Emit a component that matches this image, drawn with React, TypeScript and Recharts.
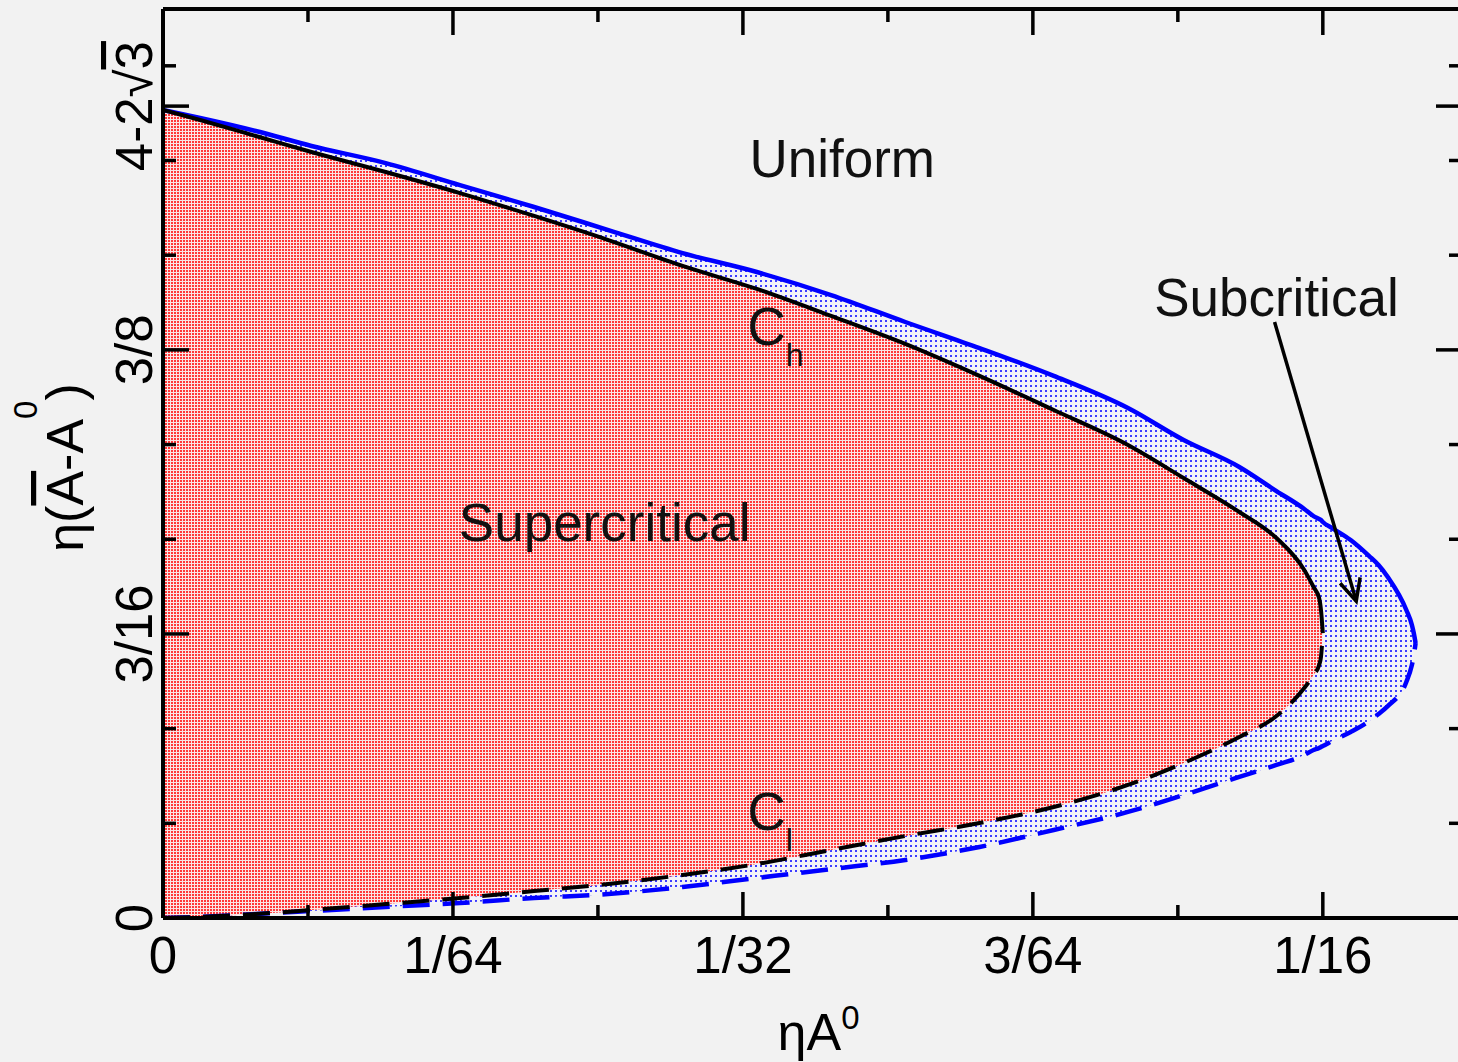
import React from 'react';
import { ComposedChart, Area, Line, XAxis, YAxis, ReferenceDot, ReferenceLine } from 'recharts';

const FONT = '"Liberation Sans", Arial, Helvetica, sans-serif';

const etaA0 = [
  0, 0.002, 0.005, 0.008, 0.012, 0.016, 0.02, 0.024, 0.028, 0.032, 0.036, 0.04, 0.044, 0.048,
  0.052, 0.055, 0.058, 0.06, 0.0615, 0.062, 0.0623, 0.0624, 0.0625,
  0.063, 0.064, 0.065, 0.0655, 0.066, 0.067, 0.0673, 0.0674, 0.0675,
];

// supercritical boundary: C_h (upper, solid) and C_l (lower, dashed)
const chUpper = [
  0.5333, 0.5267, 0.5162, 0.5056, 0.4924, 0.4785, 0.4634, 0.4475, 0.4304, 0.4152, 0.3974, 0.3789,
  0.3578, 0.3353, 0.3122, 0.2904, 0.268, 0.2508, 0.2297, 0.2185, 0.2112, 0.2033, 0.1881,
];
const clLower = [
  0, 0.0007, 0.0026, 0.0053, 0.0092, 0.0132, 0.0178, 0.0224, 0.0284, 0.0356, 0.0449, 0.0541,
  0.0627, 0.0733, 0.0878, 0.1023, 0.1195, 0.1333, 0.1518, 0.1604, 0.167, 0.1723, 0.1881,
];

// subcritical (blue) boundary
const blueUpper = [
  0.5333, 0.5281, 0.5195, 0.5096, 0.4983, 0.4838, 0.4693, 0.4541, 0.4389, 0.4264, 0.4112, 0.3934,
  0.3762, 0.3578, 0.3366, 0.3155, 0.2977, 0.2818, 0.27, 0.2653, 0.2634, 0.2627, 0.2614,
  0.2574, 0.2495, 0.2389, 0.233, 0.2251, 0.2033, 0.1934, 0.1881, 0.1815,
];
const blueLower = [
  0, 0.0007, 0.0026, 0.0046, 0.0073, 0.0099, 0.0132, 0.0158, 0.0205, 0.0264, 0.0323, 0.0383,
  0.0469, 0.0581, 0.07, 0.0812, 0.0931, 0.101, 0.1076, 0.1109, 0.1122, 0.1129, 0.1135,
  0.1168, 0.1228, 0.13, 0.1347, 0.1399, 0.1558, 0.167, 0.1729, 0.1815,
];

const xMajor = [0, 1 / 64, 1 / 32, 3 / 64, 1 / 16];
const xMajorLabels = ['0', '1/64', '1/32', '3/64', '1/16'];
const xMinor = [1 / 128, 3 / 128, 5 / 128, 7 / 128];

const yMajor = [0, 3 / 16, 3 / 8, 4 - 2 * Math.sqrt(3)];
const yMajorLabels = ['0', '3/16', '3/8', '4-2√3'];
const yMinor = [1 / 16, 1 / 8, 1 / 4, 5 / 16, 7 / 16, 1 / 2, 9 / 16];

const regionLabels = [
  { text: 'Uniform', x: 0.0366, y: 0.4891 },
  { text: 'Subcritical', x: 0.06, y: 0.3974 },
  { text: 'Supercritical', x: 0.0238, y: 0.2488 },
];
const curveLabels = [
  { main: 'C', sub: 'h', x: 0.0315, y: 0.3782 },
  { main: 'C', sub: 'l', x: 0.0315, y: 0.0581 },
];
const arrowFrom = { x: 0.0599, y: 0.3934 };
const arrowTo = { x: 0.0643, y: 0.2092 };

const rows = etaA0.map((x, i) => ({
  x,
  ch: i < chUpper.length ? chUpper[i] : null,
  cl: i < clLower.length ? clLower[i] : null,
  bu: blueUpper[i],
  bl: blueLower[i],
}));

const xTicks = [...xMajor, ...xMinor].sort((a, b) => a - b);
const yTicks = [...yMajor, ...yMinor].sort((a, b) => a - b);

const findMajor = (list: number[], v: number) => list.findIndex((m) => Math.abs(m - v) < 1e-9);

const MAJOR = 26;
const MINOR = 13;
const TICK_W = 3.5;

function bottomTick(p: any) {
  const i = findMajor(xMajor, p.payload.value);
  const len = i >= 0 ? MAJOR : MINOR;
  return (
    <g>
      <line x1={p.x} y1={p.y} x2={p.x} y2={p.y - len} stroke="#000" strokeWidth={TICK_W} />
      {i >= 0 && (
        <text x={p.x} y={p.y + 55} textAnchor="middle" fontSize={51} fontFamily={FONT} fill="#000">
          {xMajorLabels[i]}
        </text>
      )}
    </g>
  );
}

function topTick(p: any) {
  const len = findMajor(xMajor, p.payload.value) >= 0 ? MAJOR : MINOR;
  return <line x1={p.x} y1={p.y} x2={p.x} y2={p.y + len} stroke="#000" strokeWidth={TICK_W} />;
}

function leftTick(p: any) {
  const i = findMajor(yMajor, p.payload.value);
  const len = i >= 0 ? MAJOR : MINOR;
  const tx = p.x - 11;
  const label = i >= 0 ? yMajorLabels[i] : null;
  return (
    <g>
      <line x1={p.x} y1={p.y} x2={p.x + len} y2={p.y} stroke="#000" strokeWidth={TICK_W} />
      {label && (
        <text
          x={tx}
          y={p.y}
          transform={`rotate(-90 ${tx} ${p.y})`}
          textAnchor="middle"
          fontSize={51}
          fontFamily={FONT}
          fill="#000"
        >
          {label.includes('√') ? (
            <>
              {label.slice(0, label.indexOf('√') + 1)}
              <tspan textDecoration="overline">{label.slice(label.indexOf('√') + 1)}</tspan>
            </>
          ) : (
            label
          )}
        </text>
      )}
    </g>
  );
}

function rightTick(p: any) {
  const len = findMajor(yMajor, p.payload.value) >= 0 ? MAJOR : MINOR;
  return <line x1={p.x} y1={p.y} x2={p.x - len} y2={p.y} stroke="#000" strokeWidth={TICK_W} />;
}

function xTitle(p: any) {
  const vb = p.viewBox;
  return (
    <text x={vb.x + vb.width / 2 + 6} y={vb.y + 132} textAnchor="middle" fontSize={52} fontFamily={FONT} fill="#000">
      ηA<tspan fontSize={33} dy={-21}>0</tspan>
    </text>
  );
}

function yTitle(p: any) {
  const vb = p.viewBox;
  const tx = vb.x + vb.width - 80;
  const ty = vb.y + vb.height / 2 + 4;
  return (
    <text x={tx} y={ty} transform={`rotate(-90 ${tx} ${ty})`} textAnchor="middle" fontSize={52} fontFamily={FONT} fill="#000">
      η(<tspan textDecoration="overline">A</tspan>-A<tspan fontSize={33} dy={-46}>0</tspan>
      <tspan dy={46}>)</tspan>
    </text>
  );
}

function arrowShape(p: any) {
  const { x1, y1, x2, y2 } = p;
  const ang = Math.atan2(y1 - y2, x1 - x2);
  const L = 24;
  const s = Math.PI / 7;
  const ax = x2 + L * Math.cos(ang + s);
  const ay = y2 + L * Math.sin(ang + s);
  const bx = x2 + L * Math.cos(ang - s);
  const by = y2 + L * Math.sin(ang - s);
  return (
    <g>
      <line x1={x1} y1={y1} x2={x2} y2={y2} stroke="#000" strokeWidth={3.5} />
      <polyline points={`${ax},${ay} ${x2},${y2} ${bx},${by}`} fill="none" stroke="#000" strokeWidth={3.5} />
    </g>
  );
}

const frame = { stroke: '#000', strokeWidth: 4 };

export default function App() {
  return (
    <div
      style={{
        position: 'absolute',
        left: 0,
        top: 0,
        width: 1458,
        height: 1062,
        overflow: 'hidden',
        background: '#f2f2f2',
      }}
    >
      <ComposedChart width={1480} height={1062} data={rows} margin={{ top: 8, right: 17, bottom: 143, left: 162 }}>
        <defs>
          <pattern id="redDots" patternUnits="userSpaceOnUse" width={3} height={3}>
            <rect width={3} height={3} fill="#fbe4e4" />
            <rect width={2} height={2} fill="#ff3838" />
          </pattern>
          <pattern id="blueDots" patternUnits="userSpaceOnUse" width={5} height={5}>
            <rect width={5} height={5} fill="#f3f3f8" />
            <rect width={2} height={2} fill="#3c3cff" />
          </pattern>
        </defs>

        <Area
          type="monotoneX"
          dataKey={(d: any) => [d.bl, d.bu]}
          fill="url(#blueDots)"
          fillOpacity={1}
          stroke="none"
          isAnimationActive={false}
        />
        <Area
          type="monotoneX"
          dataKey={(d: any) => (d.ch == null ? null : [d.cl, d.ch])}
          fill="url(#redDots)"
          fillOpacity={1}
          stroke="none"
          isAnimationActive={false}
        />

        <Line type="monotoneX" dataKey="bu" stroke="#0000ff" strokeWidth={4.5} dot={false} isAnimationActive={false} />
        <Line
          type="monotoneX"
          dataKey="bl"
          stroke="#0000ff"
          strokeWidth={4.5}
          strokeDasharray="27 13"
          dot={false}
          isAnimationActive={false}
        />
        <Line type="monotoneX" dataKey="ch" stroke="#000" strokeWidth={4} dot={false} isAnimationActive={false} />
        <Line
          type="monotoneX"
          dataKey="cl"
          stroke="#000"
          strokeWidth={4}
          strokeDasharray="27 13"
          dot={false}
          isAnimationActive={false}
        />

        <XAxis
          dataKey="x"
          type="number"
          domain={[0, 0.07]}
          allowDataOverflow
          ticks={xTicks}
          interval={0}
          height={1}
          tickSize={0}
          tickMargin={0}
          tickLine={false}
          tick={bottomTick}
          axisLine={frame}
          label={{ content: xTitle }}
        />
        <XAxis
          xAxisId="top"
          orientation="top"
          dataKey="x"
          type="number"
          domain={[0, 0.07]}
          allowDataOverflow
          ticks={xTicks}
          interval={0}
          height={1}
          tickSize={0}
          tickMargin={0}
          tickLine={false}
          tick={topTick}
          axisLine={frame}
        />
        <YAxis
          type="number"
          domain={[0, 0.6]}
          allowDataOverflow
          ticks={yTicks}
          interval={0}
          width={1}
          tickSize={0}
          tickMargin={0}
          tickLine={false}
          tick={leftTick}
          axisLine={frame}
          label={{ content: yTitle }}
        />
        <YAxis
          yAxisId="right"
          orientation="right"
          type="number"
          domain={[0, 0.6]}
          allowDataOverflow
          ticks={yTicks}
          interval={0}
          width={1}
          tickSize={0}
          tickMargin={0}
          tickLine={false}
          tick={rightTick}
          axisLine={frame}
        />

        {regionLabels.map((r) => (
          <ReferenceDot
            key={r.text}
            x={r.x}
            y={r.y}
            r={0}
            fill="none"
            stroke="none"
            label={(p: any) => (
              <text
                x={p.viewBox.x + p.viewBox.width / 2}
                y={p.viewBox.y + p.viewBox.height / 2}
                textAnchor="middle"
                fontSize={53}
                fontFamily={FONT}
                fill="#111"
              >
                {r.text}
              </text>
            )}
          />
        ))}
        {curveLabels.map((c) => (
          <ReferenceDot
            key={c.main + c.sub}
            x={c.x}
            y={c.y}
            r={0}
            fill="none"
            stroke="none"
            label={(p: any) => (
              <text
                x={p.viewBox.x + p.viewBox.width / 2}
                y={p.viewBox.y + p.viewBox.height / 2}
                textAnchor="start"
                fontSize={53}
                fontFamily={FONT}
                fill="#111"
              >
                {c.main}
                <tspan fontSize={32} dy={21}>
                  {c.sub}
                </tspan>
              </text>
            )}
          />
        ))}
        <ReferenceLine segment={[arrowFrom, arrowTo]} shape={arrowShape} />
      </ComposedChart>
    </div>
  );
}
